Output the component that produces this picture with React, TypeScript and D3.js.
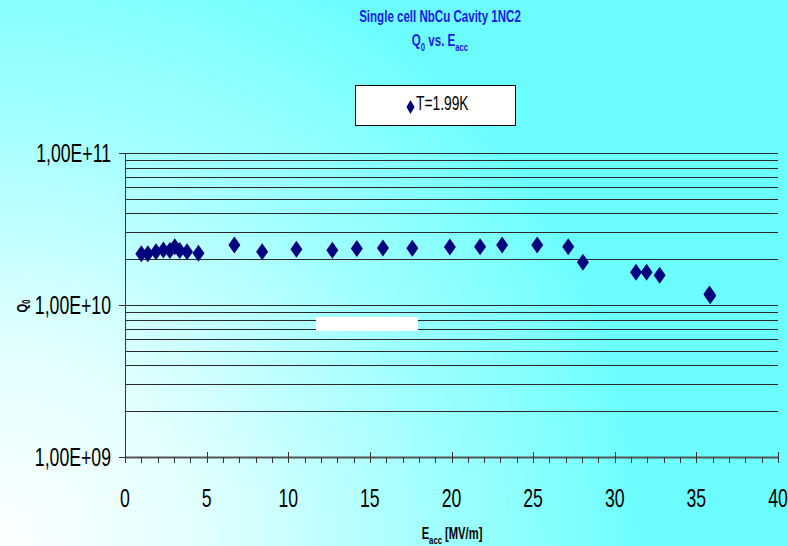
import React from 'react';
import * as d3 from 'd3';

// measured points, T = 1.99K
const eacc = [1.0, 1.4, 1.9, 2.35, 2.75, 3.05, 3.35, 3.8, 4.5, 6.7, 8.4, 10.5, 12.7, 14.2, 15.8, 17.6, 19.9, 21.75, 23.1, 25.25, 27.15, 28.05, 31.3, 31.95, 32.75, 35.8, 35.85];
const q0 = [2.17e10, 2.17e10, 2.24e10, 2.3e10, 2.28e10, 2.42e10, 2.28e10, 2.24e10, 2.19e10, 2.48e10, 2.24e10, 2.33e10, 2.29e10, 2.35e10, 2.37e10, 2.36e10, 2.41e10, 2.42e10, 2.48e10, 2.48e10, 2.42e10, 1.91e10, 1.64e10, 1.64e10, 1.57e10, 1.18e10, 1.15e10];

const xTicks = [0, 5, 10, 15, 20, 25, 30, 35, 40];
const yTicks = [1e9, 1e10, 1e11];
const yTickLabels = ['1,00E+09', '1,00E+10', '1,00E+11'];
const legendLabel = 'T=1.99K';

const W = 788;
const H = 546;
const font = '"Liberation Sans", Arial, sans-serif';

// text squeezed horizontally around its anchor point (Arial Narrow look)
const Narrow = ({ x, y, anchor = 'start', size, sx = 0.7, bold = false, fill = '#000', children }: any) => (
  <g transform={`translate(${x},${y}) scale(${sx},1)`}>
    <text x={0} y={0} textAnchor={anchor} fontFamily={font} fontSize={size} fontWeight={bold ? 'bold' : 'normal'} fill={fill}>
      {children}
    </text>
  </g>
);

export default function App() {
  const x = d3.scaleLinear().domain([0, 40]).range([125, 778]);
  const y = d3.scaleLog().domain([1e9, 1e11]).range([457, 153]);

  // grid lines 2..10 per decade
  const grid: number[] = [];
  [1e9, 1e10].forEach(d => {
    for (let k = 2; k <= 10; k++) grid.push(d * k);
  });

  const minorX = d3.range(0, 41, 1);

  const diamond = (cx: number, cy: number, w = 6, h = 8.5) =>
    `M${cx},${cy - h}L${cx + w},${cy}L${cx},${cy + h}L${cx - w},${cy}Z`;

  return (
    <svg width={W} height={H} style={{ position: 'absolute', left: 0, top: 0 }}>
      <defs>
        <radialGradient id="bg" cx="0" cy={H} r="640" gradientUnits="userSpaceOnUse">
          <stop offset="0" stopColor="#fbffff" />
          <stop offset="0.3" stopColor="#e4ffff" />
          <stop offset="0.65" stopColor="#a6ffff" />
          <stop offset="0.9" stopColor="#80ffff" />
          <stop offset="1" stopColor="#6cfdff" />
        </radialGradient>
      </defs>
      <rect x={0} y={0} width={W} height={H} fill="url(#bg)" />

      {/* title */}
      <Narrow x={440} y={22} anchor="middle" size={16.5} sx={0.7} bold fill="#1a1ae8">
        Single cell NbCu Cavity 1NC2
      </Narrow>
      <Narrow x={440} y={46} anchor="middle" size={16.5} sx={0.7} bold fill="#1a1ae8">
        Q<tspan fontSize={11} dy={5}>0</tspan><tspan dy={-5}> vs. E</tspan><tspan fontSize={11} dy={5}>acc</tspan>
      </Narrow>

      {/* grid */}
      {grid.map((g, i) => (
        <line key={'g' + i} x1={125} x2={778} y1={Math.round(y(g)) + 0.5} y2={Math.round(y(g)) + 0.5} stroke="#2a2a2a" strokeWidth={1} />
      ))}

      {/* y axis */}
      <line x1={125.5} x2={125.5} y1={153} y2={457} stroke="#333" />
      {yTicks.map((t, i) => (
        <g key={'yt' + i}>
          <line x1={119} x2={125} y1={Math.round(y(t)) + 0.5} y2={Math.round(y(t)) + 0.5} stroke="#333" />
          <Narrow x={111} y={y(t) + 9} anchor="end" size={26} sx={0.68}>
            {yTickLabels[i]}
          </Narrow>
        </g>
      ))}

      {/* x axis */}
      <line x1={125} x2={778} y1={457.5} y2={457.5} stroke="#555" strokeWidth={2} />
      {minorX.map(v => (
        <line key={'mx' + v} x1={Math.round(x(v)) + 0.5} x2={Math.round(x(v)) + 0.5} y1={v % 5 === 0 ? 452 : 457} y2={463} stroke="#333" />
      ))}
      {xTicks.map(t => (
        <Narrow key={'xt' + t} x={x(t)} y={507} anchor="middle" size={26} sx={0.68}>
          {t}
        </Narrow>
      ))}

      {/* axis titles */}
      <Narrow x={452} y={539} anchor="middle" size={16} sx={0.7} bold>
        E<tspan fontSize={11} dy={5}>acc</tspan><tspan dy={-5}> [MV/m]</tspan>
      </Narrow>
      <g transform="translate(27,306) rotate(-90) scale(0.75,1)">
        <text x={0} y={0} textAnchor="middle" fontFamily={font} fontWeight="bold" fontSize={15} fill="#000">
          Q<tspan fontSize={10} dy={3}>0</tspan>
        </text>
      </g>

      {/* white patch */}
      <rect x={316} y={317} width={102} height={14} fill="#fff" />

      {/* data */}
      {eacc.map((e, i) => (
        <path key={'p' + i} d={diamond(x(e), y(q0[i]))} fill="#000080" />
      ))}

      {/* legend */}
      <rect x={355.5} y={85.5} width={160} height={40} fill="#fff" stroke="#000" />
      <path d={diamond(410.5, 107, 4, 7)} fill="#000080" />
      <Narrow x={416} y={110} size={20} sx={0.69}>
        {legendLabel}
      </Narrow>
    </svg>
  );
}
